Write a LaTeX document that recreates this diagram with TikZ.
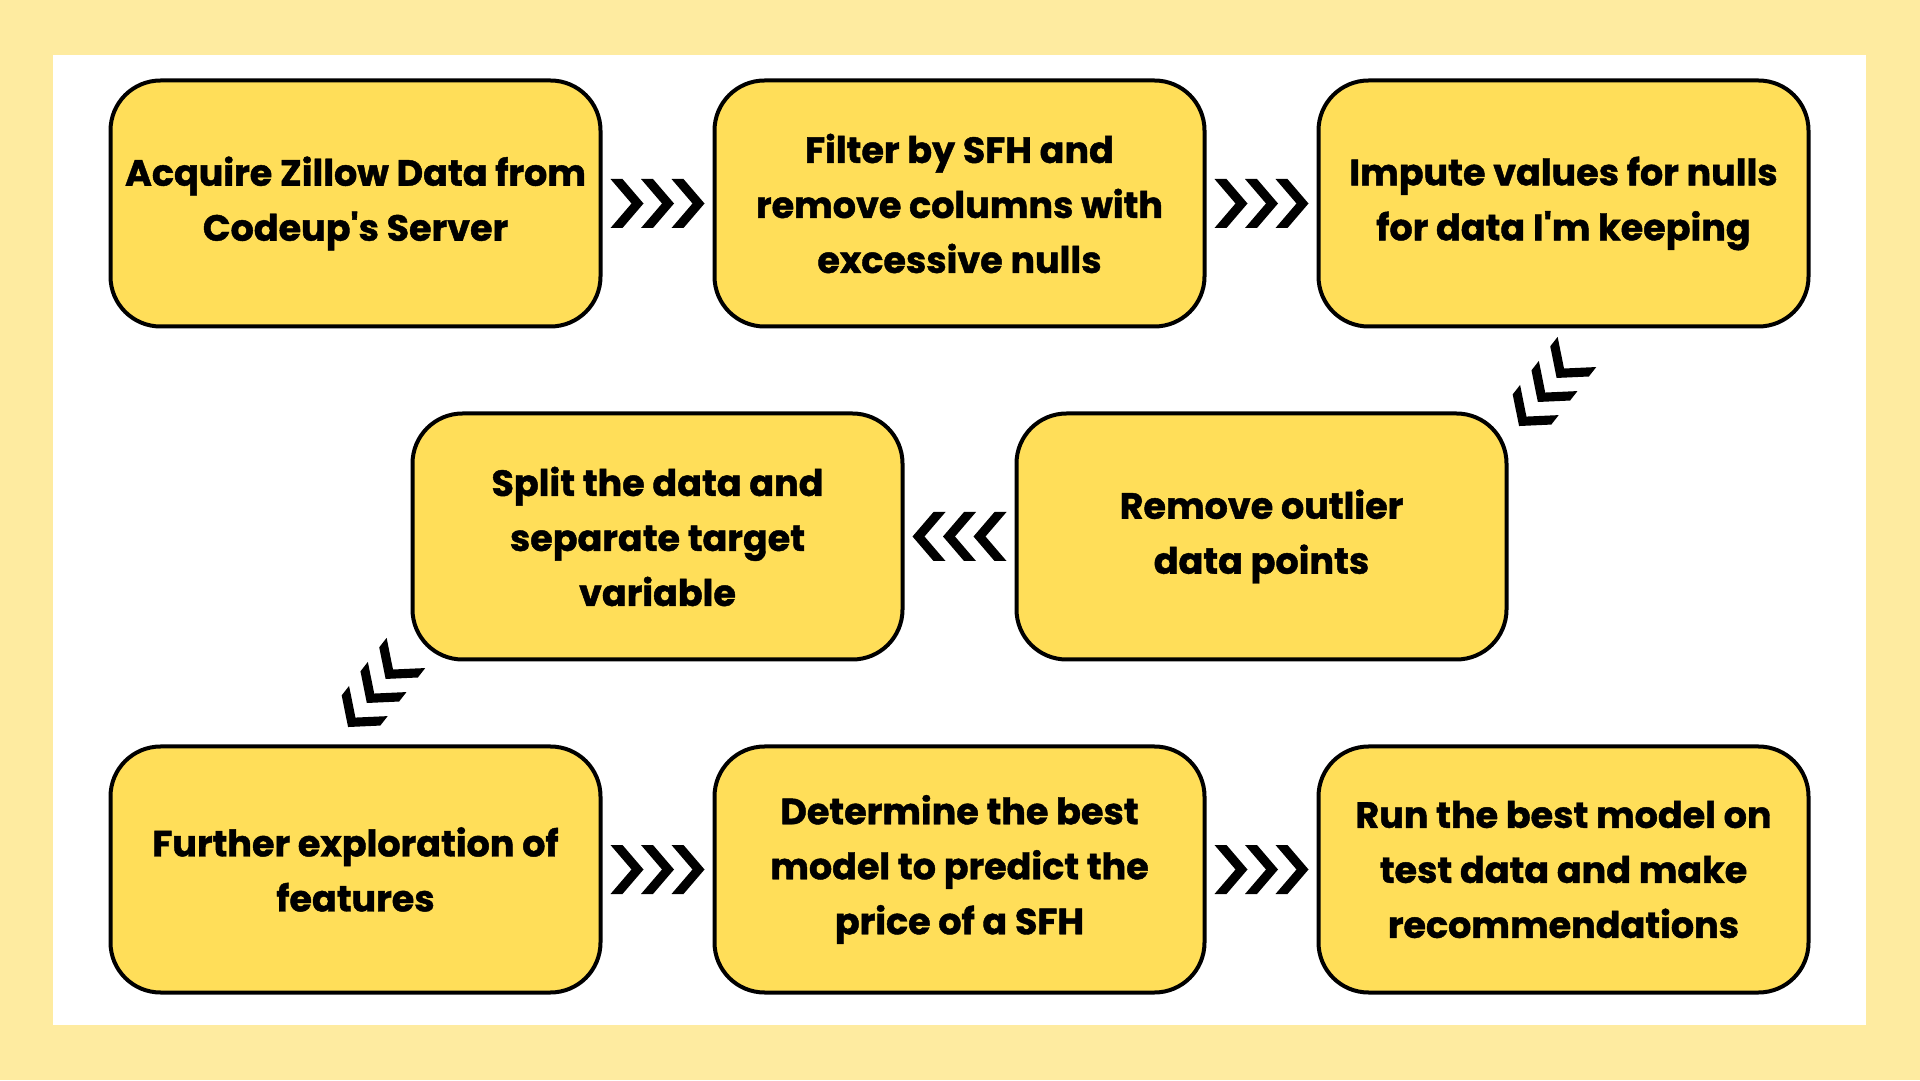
\documentclass[tikz,border=0pt]{standalone}
\usepackage{fontspec}
\setmainfont{Poppins}[Ligatures=TeXOff,BoldFeatures={FakeBold=1.2}]
\usetikzlibrary{positioning,calc}
\definecolor{paleyellow}{HTML}{FEEBA0}
\definecolor{boxyellow}{HTML}{FFDE59}

\begin{document}
\begin{tikzpicture}[
        x=1pt,y=1pt,
        stepbox/.style={rectangle,rounded corners=50pt,draw=black,line width=4pt,
            fill=boxyellow,minimum width=490pt,minimum height=246pt,
            align=center,font=\fontsize{36.5}{55}\selectfont\bfseries},
        chevrons/.pic={\foreach \dx in {-30.5,0,30.5}
            \fill[black,shift={(\dx,0)}] (-16.5,24.5) -- (-4.5,24.5) -- (16.5,0) -- (-4.5,-24.5)
                -- (-16.5,-24.5) -- (4.5,0) -- cycle;},
        node distance=110pt,
    ]
    \fill[paleyellow] (0,0) rectangle (1920,1080);
    \fill[white] (53,55) rectangle (1866,1025);

    \node[stepbox] (acq) at (355.5,876.5) {Acquire Zillow Data from\\Codeup's Server};
    \node[stepbox,right=of acq] (filt) {Filter by SFH and\\remove columns with\\excessive nulls};
    \node[stepbox,right=of filt] (imp) {Impute values for nulls\\for data I'm keeping};

    \node[stepbox] (outl) at (1261.5,543.5) {Remove outlier\\data points};
    \node[stepbox,left=of outl] (split) {Split the data and\\separate target\\variable};

    \node[stepbox] (expl) at (355.5,210.5) {Further exploration of\\features};
    \node[stepbox,right=of expl] (best) {Determine the best\\model to predict the\\price of a SFH};
    \node[stepbox,right=of best] (run) {Run the best model on\\test data and make\\recommendations};

    % chevrons between the steps
    \pic at ($(acq.east)!0.5!(filt.west)$) {chevrons};
    \pic at ($(filt.east)!0.5!(imp.west)$) {chevrons};
    \pic[rotate=232] at ($(imp.south)!0.5!(outl.north east)+(12,-19)$) {chevrons};
    \pic[rotate=180] at ($(outl.west)!0.5!(split.east)$) {chevrons};
    \pic[rotate=232] at ($(split.south west)!0.5!(expl.north)+(-6,13)$) {chevrons};
    \pic at ($(expl.east)!0.5!(best.west)$) {chevrons};
    \pic at ($(best.east)!0.5!(run.west)$) {chevrons};
\end{tikzpicture}
\end{document}
